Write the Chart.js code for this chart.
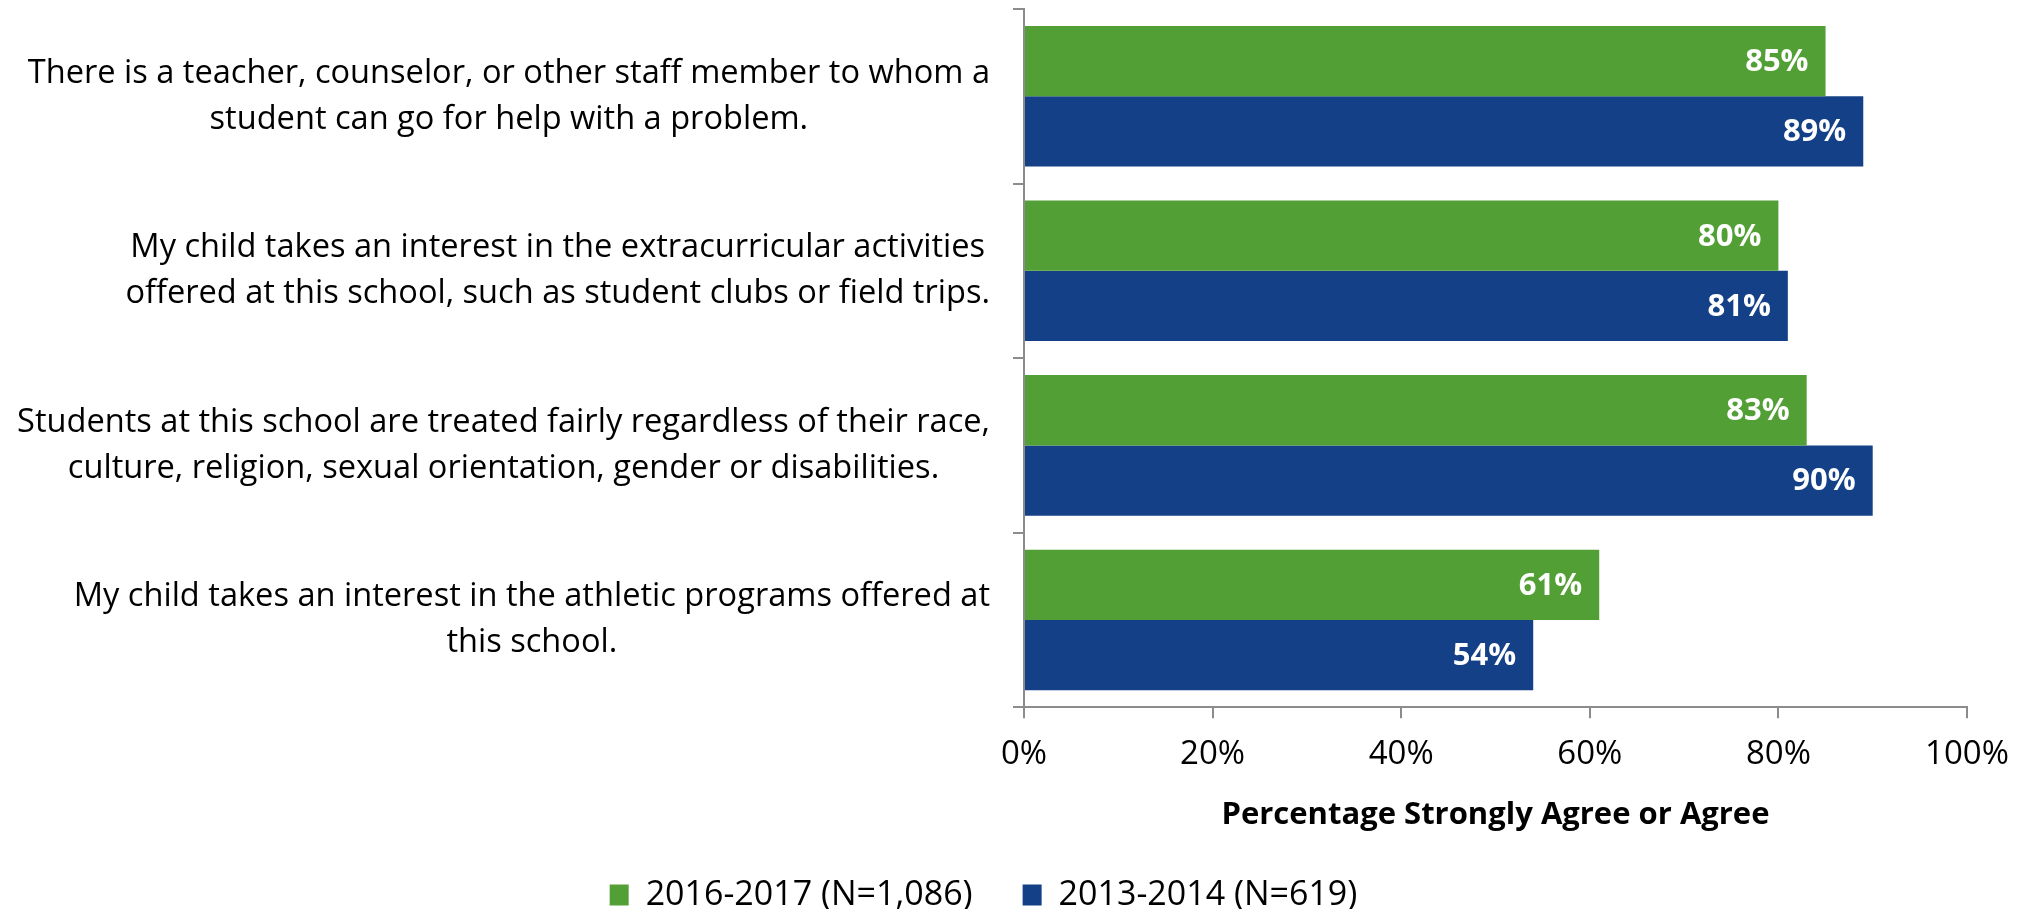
<!DOCTYPE html>
<html>
<head>
<meta charset="utf-8">
<script src="https://cdn.jsdelivr.net/npm/chart.js@4/dist/chart.umd.min.js"></script>
<style>
  html, body { margin: 0; padding: 0; background: #fff; }
  #wrap { width: 2028px; height: 909px; }
</style>
</head>
<body>
<div id="wrap"><canvas id="chart" width="2028" height="909"></canvas></div>
<script>
// survey statements (one array per wrapped label)
const categories = [
  ['There is a teacher, counselor, or other staff member to whom a', 'student can go for help with a problem.'],
  ['My child takes an interest in the extracurricular activities', 'offered at this school, such as student clubs or field trips.'],
  ['Students at this school are treated fairly regardless of their race,', 'culture, religion, sexual orientation, gender or disabilities.'],
  ['My child takes an interest in the athletic programs offered at', 'this school.'],
];
const seriesNames = ['2016-2017 (N=1,086)', '2013-2014 (N=619)'];
const values2017 = [85, 80, 83, 61];
const values2014 = [89, 81, 90, 54];
const xTicks = [0, 20, 40, 60, 80, 100];

const GREEN = '#52A035';
const BLUE = '#134086';
const AXIS_GRAY = '#8C8C8C';
const FONT = "'Open Sans', sans-serif";

// draws the white % labels inside the bar ends
const barLabels = {
  id: 'barLabels',
  afterDatasetsDraw(chart) {
    const { ctx } = chart;
    ctx.save();
    ctx.font = "bold 31px 'Open Sans'";
    ctx.fillStyle = '#fff';
    ctx.textAlign = 'right';
    ctx.textBaseline = 'middle';
    chart.data.datasets.forEach((ds, di) => {
      chart.getDatasetMeta(di).data.forEach((bar, i) => {
        ctx.fillText(ds.data[i] + '%', bar.x - 17, bar.y + 1);
      });
    });
    ctx.restore();
  }
};

// category labels: each block right-aligned, lines centred inside the block
const catLabels = {
  id: 'catLabels',
  afterDraw(chart) {
    const { ctx } = chart;
    const yScale = chart.scales.y;
    const rightEdge = yScale.right - 34;
    const lineGap = 46;
    ctx.save();
    ctx.font = "32.6px 'Open Sans'";
    ctx.fillStyle = '#000';
    ctx.textAlign = 'center';
    ctx.textBaseline = 'middle';
    categories.forEach((lines, i) => {
      const yc = yScale.getPixelForValue(i);
      const w = Math.max(...lines.map(l => ctx.measureText(l).width));
      const cx = rightEdge - w / 2;
      const y0 = yc - (lines.length - 1) * lineGap / 2;
      lines.forEach((l, k) => ctx.fillText(l, cx, y0 + k * lineGap));
    });
    ctx.restore();
  }
};

const ctx = document.getElementById('chart').getContext('2d');
new Chart(ctx, {
  type: 'bar',
  data: {
    labels: categories,
    datasets: [
      { label: seriesNames[0], data: values2017, backgroundColor: GREEN },
      { label: seriesNames[1], data: values2014, backgroundColor: BLUE },
    ],
  },
  options: {
    indexAxis: 'y',
    responsive: false,
    animation: false,
    events: [],
    categoryPercentage: 0.805,
    barPercentage: 1,
    layout: { padding: { top: 9, right: 61, left: 0, bottom: -13 } },
    scales: {
      x: {
        min: 0,
        max: 100,
        afterBuildTicks(scale) { scale.ticks = xTicks.map(v => ({ value: v })); },
        border: { color: AXIS_GRAY, width: 2 },
        grid: { drawOnChartArea: false, color: AXIS_GRAY, lineWidth: 2, tickLength: 11 },
        ticks: {
          color: '#000',
          padding: 17,
          font: { family: FONT, size: 33 },
          callback: v => v + '%',
        },
        title: {
          display: true,
          text: 'Percentage Strongly Agree or Agree',
          color: '#000',
          font: { family: FONT, size: 31, weight: 'bold' },
          padding: { top: 5, bottom: -6 },
        },
      },
      y: {
        afterFit(scale) { scale.width = 1024; },
        border: { color: AXIS_GRAY, width: 2 },
        grid: { drawOnChartArea: false, color: AXIS_GRAY, lineWidth: 2, tickLength: 11, offset: true },
        ticks: { display: false },
      },
    },
    plugins: {
      legend: {
        position: 'bottom',
        labels: {
          color: '#000',
          font: { family: FONT, size: 34 },
          boxWidth: 19,
          boxHeight: 21,
          padding: 50,
        },
      },
      tooltip: { enabled: false },
    },
  },
  plugins: [barLabels, catLabels],
});
</script>
</body>
</html>
